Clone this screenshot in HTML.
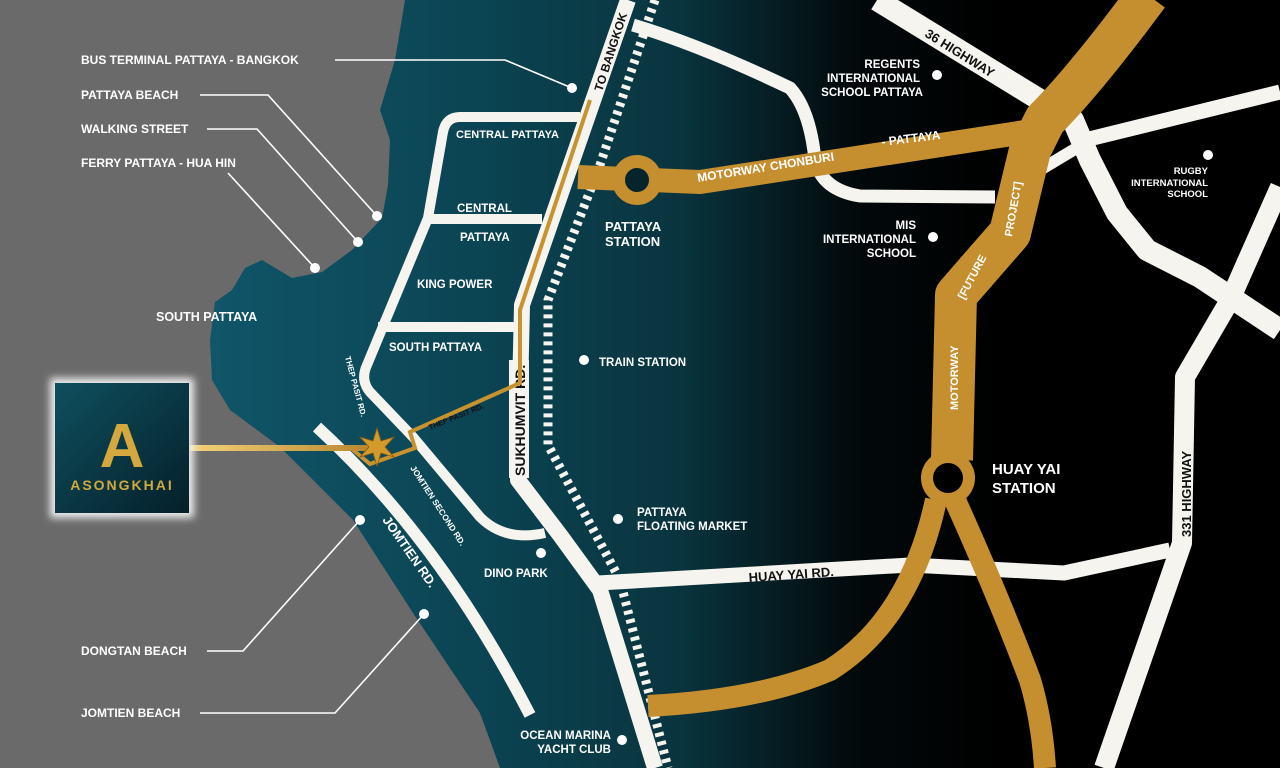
<!DOCTYPE html>
<html><head><meta charset="utf-8"><style>
html,body{margin:0;padding:0;background:#6a6a6a;}
svg{display:block}
text{font-family:"Liberation Sans",sans-serif;font-weight:bold;}
</style></head><body>
<svg width="1280" height="768" viewBox="0 0 1280 768" xmlns="http://www.w3.org/2000/svg">
<defs>
<linearGradient id="land" gradientUnits="userSpaceOnUse" x1="200" y1="0" x2="1000" y2="0">
<stop offset="0" stop-color="#105669"/>
<stop offset="0.35" stop-color="#0b4453"/>
<stop offset="0.6" stop-color="#09343e"/>
<stop offset="0.82" stop-color="#02090b"/>
<stop offset="1" stop-color="#000"/>
</linearGradient>
<linearGradient id="logo" x1="0" y1="0" x2="1" y2="1">
<stop offset="0" stop-color="#0f4f5e"/><stop offset="1" stop-color="#04202a"/>
</linearGradient>
<linearGradient id="gl" x1="0" x2="1">
<stop offset="0" stop-color="#f3d27a"/><stop offset="1" stop-color="#b8862c"/>
</linearGradient>
<filter id="glow"><feGaussianBlur stdDeviation="4"/></filter>
</defs>
<rect width="1280" height="768" fill="#6a6a6a"/>
<path d="M405 0 L395 60 L380 110 L390 140 L388 185 L382 218 L352 250 L322 272 L292 278 L262 260 L245 268 L232 290 L215 302 L210 340 L212 380 L230 410 L280 447 L353 520 L413 613 L480 713 L500 768 L1280 768 L1280 0 Z" fill="url(#land)"/>

<g fill="none" stroke="#f6f4ee" stroke-linejoin="round" stroke-linecap="butt">
<path d="M628 0 L522 305 L518 480 L560 535 L600 590 L655 768" stroke-width="16"/>
<path d="M580 117 L460 117 Q446 117 443 132 L428 218 L367 365 Q360 380 370 392 L413 437 L480 517 Q505 542 545 533" stroke-width="10"/>
<path d="M430 219 L542 219" stroke-width="10"/>
<path d="M378 327 L518 327" stroke-width="10"/>
<path d="M317 427 Q440 540 530 715" stroke-width="12"/>
<path d="M633 25 Q700 45 790 88 Q810 110 815 160 Q822 190 860 196 L995 197" stroke-width="13"/>
<path d="M1040 170 L1090 140" stroke-width="12"/>
<path d="M877 0 L1040 100 L1073 120 L1090 160 L1117 213 L1147 250 L1200 277 L1280 330" stroke-width="22"/>
<path d="M1085 140 L1280 92" stroke-width="15"/>
<path d="M1280 187 L1230 300 L1185 377 L1182 543 L1104 768" stroke-width="20"/>
<path d="M598 583 L910 565 L1064 573 L1170 550" stroke-width="15"/>
</g>
<path d="M655 0 L600 165 L548 300 L548 445 L620 580 L668 768" fill="none" stroke="#f6f4ee" stroke-width="9" stroke-dasharray="4 5"/>
<rect x="509" y="360" width="20" height="118" fill="#f6f4ee"/>
<text transform="translate(525,476) rotate(-90)" font-size="14" fill="#111">SUKHUMVIT RD.</text>

<g fill="none" stroke="#c58f2f" stroke-linejoin="round">
<path d="M578 177 L700 182 L1025 132" stroke-width="24"/>
<path d="M1148 -5 Q1085 80 1045 120 L1030 150 L1010 233 L956 295 L952 460" stroke-width="42"/>
<path d="M936 500 Q910 620 830 670 Q760 700 648 706" stroke-width="22"/>
<path d="M955 500 Q1000 600 1030 680 Q1042 720 1045 768" stroke-width="22"/>
</g>
<circle cx="637" cy="180" r="25" fill="#c58f2f"/><circle cx="637" cy="180" r="12" fill="#05242c"/>
<circle cx="948" cy="478" r="27" fill="#c58f2f"/><circle cx="948" cy="478" r="15" fill="#000"/>

<path d="M590 100 L520 310 L520 383 L410 432 L415 448 L370 464 L353 450" fill="none" stroke="#c8922e" stroke-width="4"/>
<rect x="190" y="445" width="185" height="6" fill="url(#gl)"/>
<polygon points="377,428 381,441 394,437 385,447 394,457 381,453 377,466 373,453 360,457 369,447 360,437 373,441" fill="#d39a2c" stroke="#8a5a10" stroke-width="0.8"/>

<rect x="50" y="378" width="144" height="140" fill="#eee" filter="url(#glow)"/>
<rect x="55" y="383" width="134" height="130" fill="url(#logo)"/>
<text x="122" y="467" font-family="Liberation Serif,serif" font-weight="normal" font-size="62" fill="#d4a83c" text-anchor="middle">A</text>
<text x="122" y="490" font-family="Liberation Serif,serif" font-weight="normal" font-size="14" letter-spacing="2" fill="#d4a83c" text-anchor="middle">ASONGKHAI</text>

<g stroke="#fff" stroke-width="1.6" fill="none">
<path d="M335 60 L505 60 L572 88"/>
<path d="M200 95 L268 95 L377 216"/>
<path d="M207 129 L257 129 L358 242"/>
<path d="M228 173 L315 268"/>
<path d="M207 651 L243 651 L360 520"/>
<path d="M200 713 L335 713 L424 614"/>
</g>
<g fill="#fff">
<circle cx="572" cy="88" r="5"/><circle cx="377" cy="216" r="5"/><circle cx="358" cy="242" r="5"/><circle cx="315" cy="268" r="5"/>
<circle cx="360" cy="520" r="5"/><circle cx="424" cy="614" r="5"/>
<circle cx="541" cy="553" r="5"/><circle cx="584" cy="360" r="5"/><circle cx="618" cy="519" r="5"/><circle cx="622" cy="740" r="5"/>
<circle cx="937" cy="75" r="5"/><circle cx="933" cy="237" r="5"/><circle cx="1208" cy="155" r="5"/>
</g>

<g fill="#fff" font-size="12">
<text x="81" y="64">BUS TERMINAL PATTAYA - BANGKOK</text>
<text x="81" y="99">PATTAYA BEACH</text>
<text x="81" y="133">WALKING STREET</text>
<text x="81" y="167">FERRY PATTAYA - HUA HIN</text>
<text x="156" y="321" font-size="12.5">SOUTH PATTAYA</text>
<text x="81" y="655">DONGTAN BEACH</text>
<text x="81" y="717">JOMTIEN BEACH</text>
<text x="456" y="138" font-size="11">CENTRAL PATTAYA</text>
<text x="457" y="212" font-size="11.5">CENTRAL</text>
<text x="460" y="241" font-size="11.5">PATTAYA</text>
<text x="417" y="288" font-size="11.5">KING POWER</text>
<text x="389" y="351" font-size="11.5">SOUTH PATTAYA</text>
<text x="484" y="577" font-size="11.5">DINO PARK</text>
<text x="599" y="366" font-size="11.5">TRAIN STATION</text>
<text x="605" y="231" font-size="13">PATTAYA</text>
<text x="605" y="246" font-size="13">STATION</text>
<text x="637" y="516" font-size="11.5">PATTAYA</text>
<text x="637" y="530" font-size="11.5">FLOATING MARKET</text>
<g text-anchor="end" font-size="11.5">
<text x="611" y="739">OCEAN MARINA</text>
<text x="611" y="753">YACHT CLUB</text>
<text x="920" y="68">REGENTS</text>
<text x="920" y="82">INTERNATIONAL</text>
<text x="923" y="96">SCHOOL PATTAYA</text>
<text x="916" y="229">MIS</text>
<text x="916" y="243">INTERNATIONAL</text>
<text x="916" y="257">SCHOOL</text>
<text x="1208" y="174" font-size="9.5">RUGBY</text>
<text x="1208" y="186" font-size="9.5">INTERNATIONAL</text>
<text x="1208" y="197" font-size="9.5">SCHOOL</text>
</g>
<text x="992" y="474" font-size="15">HUAY YAI</text>
<text x="992" y="493" font-size="15">STATION</text>
<text transform="translate(345,357) rotate(75)" font-size="8">THEP PASIT RD.</text>
<text transform="translate(410,468) rotate(57)" font-size="8.5">JOMTIEN SECOND RD.</text>
<text transform="translate(382,520) rotate(55)" font-size="13">JOMTIEN RD.</text>
<text transform="translate(698,182) rotate(-9)" font-size="12" font-weight="normal">MOTORWAY CHONBURI</text>
<text transform="translate(882,146) rotate(-7)" font-size="12" font-weight="normal">- PATTAYA</text>
<text transform="translate(958,410) rotate(-90)" font-size="11" font-weight="normal">MOTORWAY</text>
<text transform="translate(964,300) rotate(-62)" font-size="11" font-weight="normal">[FUTURE</text>
<text transform="translate(1012,237) rotate(-80)" font-size="11" font-weight="normal">PROJECT]</text>
</g>
<g fill="#111">
<text transform="translate(602,92) rotate(-72)" font-size="12">TO BANGKOK</text>
<text transform="translate(430,430) rotate(-22)" font-size="7.5">THEP PASIT RD.</text>
<text transform="translate(749,582) rotate(-4)" font-size="13">HUAY YAI RD.</text>
<text transform="translate(1191,537) rotate(-90)" font-size="13">331 HIGHWAY</text>
<text transform="translate(924,36) rotate(32)" font-size="13">36 HIGHWAY</text>
</g>
</svg>
</body></html>
